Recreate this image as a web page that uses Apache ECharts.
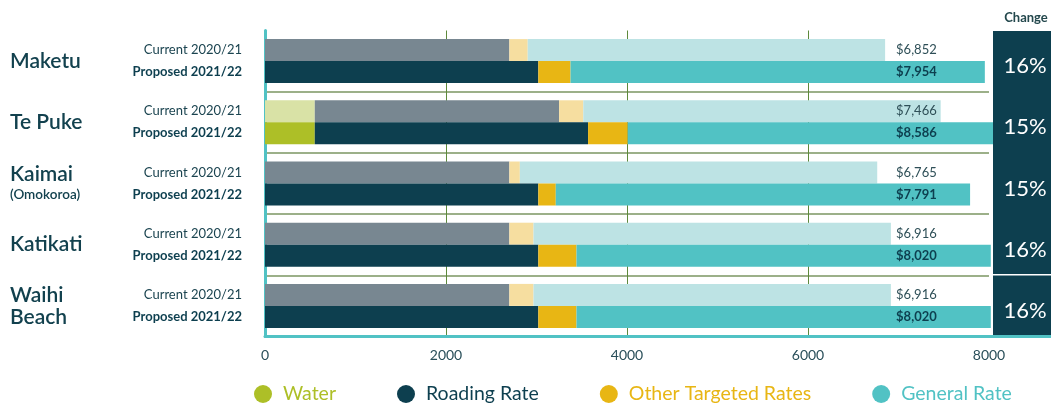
<!DOCTYPE html>
<html>
<head>
<meta charset="utf-8">
<script src="https://cdn.jsdelivr.net/npm/echarts@6/dist/echarts.min.js"></script>
<style>
  html, body { margin: 0; padding: 0; background: #fff; }
  #main { width: 1051px; height: 406px; }
</style>
</head>
<body>
<div id="main"></div>
<script>
// towns (category axis)
var towns = ['Maketu', 'Te Puke', 'Kaimai', 'Katikati', 'Waihi Beach'];

// current 2020/21 components
var waterCur   = [0, 550, 0, 0, 0];
var roadingCur = [2700, 2700, 2700, 2700, 2700];
var otherCur   = [203, 267, 116, 267, 267];
var generalCur = [3949, 3949, 3949, 3949, 3949];

// proposed 2021/22 components
var waterProp   = [0, 550, 0, 0, 0];
var roadingProp = [3020, 3020, 3020, 3020, 3020];
var otherProp   = [356, 438, 193, 422, 422];
var generalProp = [4578, 4578, 4578, 4578, 4578];

// totals shown as labels and the change column
var totalCur  = [6852, 7466, 6765, 6916, 6916];
var totalProp = [7954, 8586, 7791, 8020, 8020];
var change    = [16, 15, 15, 16, 16];

var xTicks = [0, 2000, 4000, 6000, 8000];
var labelAt = 6973; // where the total labels sit on the x scale

var font = 'Lato, "Open Sans", sans-serif';

function money(v) {
  return '$' + v.toLocaleString('en-US');
}

var myChart = echarts.init(document.getElementById('main'));

function barSeries(name, stack, data, color) {
  return {
    name: name,
    type: 'bar',
    stack: stack,
    data: data,
    barWidth: 22,
    barGap: '0%',
    clip: false,
    itemStyle: { color: color },
    emphasis: { disabled: true }
  };
}

var option = {
  animation: false,
  textStyle: { fontFamily: font },
  grid: { left: 265, right: 62, top: 30.5, bottom: 69.5, containLabel: false },
  legend: {
    left: 249,
    top: 379,
    icon: 'circle',
    itemWidth: 30,
    itemHeight: 18,
    itemGap: 61,
    textStyle: { fontSize: 19.5, fontFamily: font },
    data: [
      { name: 'Water', textStyle: { color: '#adbf27' } },
      { name: 'Roading Rate', textStyle: { color: '#0d3f4f' } },
      { name: 'Other Targeted Rates', textStyle: { color: '#e8b614' } },
      { name: 'General Rate', textStyle: { color: '#51c2c4' } }
    ]
  },
  xAxis: {
    type: 'value',
    min: xTicks[0],
    max: xTicks[xTicks.length - 1],
    interval: xTicks[1] - xTicks[0],
    axisLine: { show: true, lineStyle: { color: '#51c2c4', width: 3 } },
    axisTick: { show: false },
    axisLabel: { color: '#2a4f5a', fontSize: 14, margin: 12, formatter: function (v) { return String(v); } },
    splitLine: { show: true, showMaxLine: false, lineStyle: { color: '#5e8a3c', width: 1 } }
  },
  yAxis: [
    {
      type: 'category',
      data: towns,
      inverse: true,
      axisLine: { show: true, lineStyle: { color: '#51c2c4', width: 3 } },
      axisTick: { show: false },
      splitLine: { show: true, showMinLine: false, lineStyle: { color: '#9cb089', width: 2 } },
      axisLabel: {
        margin: 23,
        formatter: function () {
          return '{cur|Current 2020/21}\n{prop|Proposed 2021/22}';
        },
        rich: {
          cur: { fontSize: 13, color: '#1b4450', lineHeight: 22, fontFamily: font },
          prop: { fontSize: 13, fontWeight: 'bold', color: '#0d3f4f', lineHeight: 22, fontFamily: font }
        }
      }
    },
    {
      type: 'category',
      data: towns,
      inverse: true,
      position: 'left',
      axisLine: { show: false },
      axisTick: { show: false },
      axisLabel: {
        margin: 255,
        align: 'left',
        fontSize: 21,
        fontWeight: 600,
        color: '#12414e',
        lineHeight: 22,
        formatter: function (v) {
          if (v === 'Kaimai') return 'Kaimai\n{sub|(Omokoroa)}';
          if (v === 'Waihi Beach') return 'Waihi\nBeach';
          return v;
        },
        rich: {
          sub: { fontSize: 13.5, fontWeight: 600, color: '#12414e', lineHeight: 18, fontFamily: font }
        }
      }
    }
  ],
  graphic: [
    { type: 'rect', z: 5, shape: { x: 993, y: 31, width: 58, height: 304 }, style: { fill: '#0d3f4f' } },
    { type: 'rect', z: 6, shape: { x: 993, y: 274, width: 58, height: 1.5 }, style: { fill: '#ffffff' } },
    { type: 'rect', z: 6, shape: { x: 989, y: 335, width: 62, height: 3 }, style: { fill: '#51c2c4' } },
    {
      type: 'text', z: 6, x: 1026, y: 18,
      style: { text: 'Change', fill: '#24484d', font: 'bold 13px ' + font, align: 'center', verticalAlign: 'middle' }
    }
  ],
  series: [
    barSeries('Water 2020/21', 'cur', waterCur, '#d9e2a6'),
    barSeries('Roading 2020/21', 'cur', roadingCur, '#788791'),
    barSeries('Other 2020/21', 'cur', otherCur, '#f6dea0'),
    barSeries('General 2020/21', 'cur', generalCur, '#bde3e4'),
    barSeries('Water', 'prop', waterProp, '#adbf27'),
    barSeries('Roading Rate', 'prop', roadingProp, '#0d3f4f'),
    barSeries('Other Targeted Rates', 'prop', otherProp, '#e8b614'),
    barSeries('General Rate', 'prop', generalProp, '#51c2c4'),
    {
      name: 'Totals',
      type: 'custom',
      z: 10,
      data: towns.map(function (t, i) { return [labelAt, i]; }),
      renderItem: function (params, api) {
        var p = api.coord([api.value(0), api.value(1)]);
        var i = params.dataIndex;
        return {
          type: 'group',
          children: [
            {
              type: 'text', x: p[0], y: p[1] - 11,
              style: { text: money(totalCur[i]), fill: '#2e4f57', font: '13px ' + font, align: 'left', verticalAlign: 'middle' }
            },
            {
              type: 'text', x: p[0], y: p[1] + 11,
              style: { text: money(totalProp[i]), fill: '#0d3f4f', font: 'bold 13px ' + font, align: 'left', verticalAlign: 'middle' }
            },
            {
              type: 'text', x: 1025, y: p[1] + 5,
              style: { text: change[i] + '%', fill: '#ffffff', font: '22px ' + font, align: 'center', verticalAlign: 'middle' }
            }
          ]
        };
      }
    }
  ]
};

myChart.setOption(option);
</script>
</body>
</html>
